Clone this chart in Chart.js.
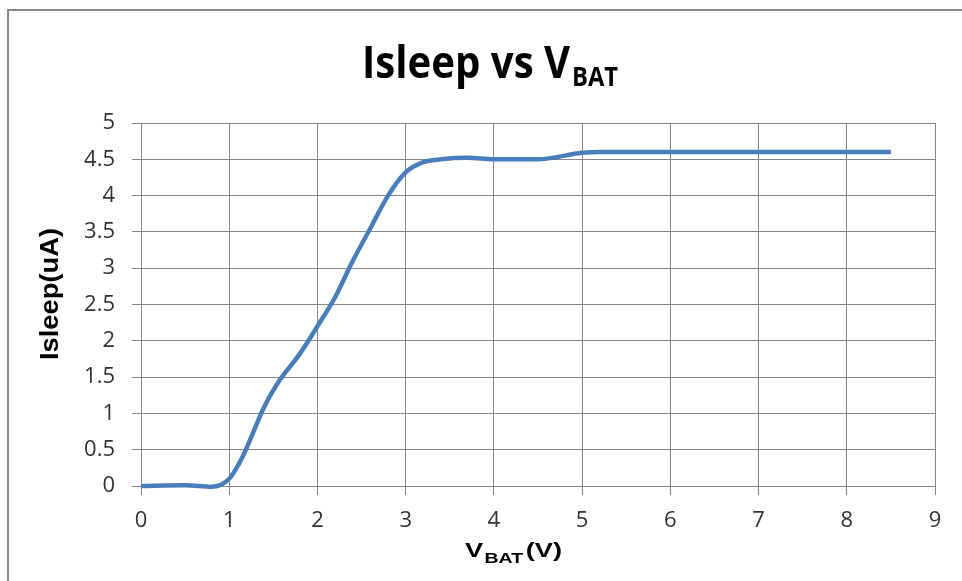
<!DOCTYPE html>
<html>
<head>
<meta charset="utf-8">
<title>Isleep vs VBAT</title>
<script src="https://cdn.jsdelivr.net/npm/chart.js@4/dist/chart.umd.min.js"></script>
<style>
  html, body { margin: 0; padding: 0; background: #fff; }
  #wrap { position: relative; width: 962px; height: 581px; }
</style>
</head>
<body>
<div id="wrap"><canvas id="sleepChart"></canvas></div>
<script>
// values
var vbat   = [0, 0.5, 0.8, 1.0, 1.15, 1.4, 1.55, 1.8, 2.0, 2.2, 2.4, 2.6, 2.8, 3.0, 3.2, 3.4, 3.7, 4.0, 4.5, 5.0, 5.2, 6, 7, 8, 8.5];
var isleep = [0, 0.01, -0.01, 0.1, 0.4, 1.1, 1.42, 1.82, 2.2, 2.6, 3.1, 3.55, 4.0, 4.32, 4.46, 4.5, 4.52, 4.5, 4.5, 4.59, 4.6, 4.6, 4.6, 4.6, 4.6];

var xMin = 0, xMax = 9, xStep = 1;
var yMin = 0, yMax = 5, yStep = 0.5;

var gridCol = '#868686';
var lineCol = '#4A7EBB';

var points = [];
for (var i = 0; i < vbat.length; i++) {
  points.push({ x: vbat[i], y: isleep[i] });
}

// draws the frame and the titles (they carry subscripts)
var decor = {
  id: 'decor',
  beforeDraw: function (chart) {
    var ctx = chart.ctx;
    ctx.save();
    ctx.strokeStyle = '#888';
    ctx.lineWidth = 2;
    ctx.strokeRect(8, 10, 1000, 1000);
    ctx.restore();
  },
  afterDraw: function (chart) {
    var ctx = chart.ctx;

    // main title
    ctx.save();
    ctx.fillStyle = '#000';
    ctx.textBaseline = 'alphabetic';
    ctx.font = 'bold 44px "Open Sans"';
    var main = 'Isleep vs V';
    var wMain = ctx.measureText(main).width;
    ctx.font = 'bold 26px "Open Sans"';
    var wSub = ctx.measureText('BAT').width;
    var sx = 256 / (wMain + wSub + 2);
    ctx.translate(362, 0);
    ctx.scale(sx, 1);
    ctx.font = 'bold 44px "Open Sans"';
    ctx.fillText(main, 0, 78);
    ctx.font = 'bold 26px "Open Sans"';
    ctx.fillText('BAT', wMain + 2, 86);
    ctx.restore();

    // y axis title
    ctx.save();
    ctx.fillStyle = '#000';
    ctx.font = 'bold 25px "Liberation Sans"';
    var yt = 'Isleep(uA)';
    var wy = ctx.measureText(yt).width;
    ctx.translate(51, 294);
    ctx.rotate(-Math.PI / 2);
    ctx.scale(132 / wy, 1);
    ctx.textAlign = 'center';
    ctx.textBaseline = 'middle';
    ctx.fillText(yt, 0, 0);
    ctx.restore();

    // x axis title
    ctx.save();
    ctx.fillStyle = '#000';
    ctx.textBaseline = 'alphabetic';
    ctx.font = 'bold 21px "Liberation Sans"';
    var wv = ctx.measureText('V').width;
    var wp = ctx.measureText('(V)').width;
    ctx.font = 'bold 15px "Liberation Sans"';
    var wb = ctx.measureText('BAT').width;
    var total = wv + 1 + wb + 2 + wp;
    ctx.translate(465, 0);
    ctx.scale(97 / total, 1);
    ctx.font = 'bold 21px "Liberation Sans"';
    ctx.fillText('V', 0, 557);
    ctx.font = 'bold 15px "Liberation Sans"';
    ctx.fillText('BAT', wv + 1, 563);
    ctx.font = 'bold 21px "Liberation Sans"';
    ctx.fillText('(V)', wv + wb + 3, 557);
    ctx.restore();
  }
};

new Chart(document.getElementById('sleepChart'), {
  type: 'scatter',
  data: {
    datasets: [{
      data: points,
      showLine: true,
      borderColor: lineCol,
      borderWidth: 4.5,
      pointRadius: 0,
      cubicInterpolationMode: 'monotone',
      clip: false
    }]
  },
  options: {
    responsive: true,
    maintainAspectRatio: false,
    animation: false,
    layout: { padding: { left: 60, right: 27, top: 123, bottom: 0 } },
    plugins: {
      legend: { display: false },
      title: { display: false },
      tooltip: { enabled: false }
    },
    scales: {
      x: {
        type: 'linear',
        min: xMin,
        max: xMax,
        afterFit: function (s) { s.height = 95; },
        ticks: {
          stepSize: xStep,
          padding: 13,
          color: '#333',
          font: { family: '"Open Sans"', size: 22 },
          maxRotation: 0
        },
        grid: { color: gridCol, tickLength: 9, lineWidth: 1 },
        border: { color: gridCol }
      },
      y: {
        min: yMin,
        max: yMax,
        afterFit: function (s) { s.width = 81; },
        ticks: {
          stepSize: yStep,
          padding: 17,
          color: '#333',
          font: { family: '"Open Sans"', size: 22 },
          callback: function (v) { return String(v); }
        },
        grid: { color: gridCol, tickLength: 9, lineWidth: 1 },
        border: { color: gridCol }
      }
    }
  },
  plugins: [decor]
});
</script>
</body>
</html>
